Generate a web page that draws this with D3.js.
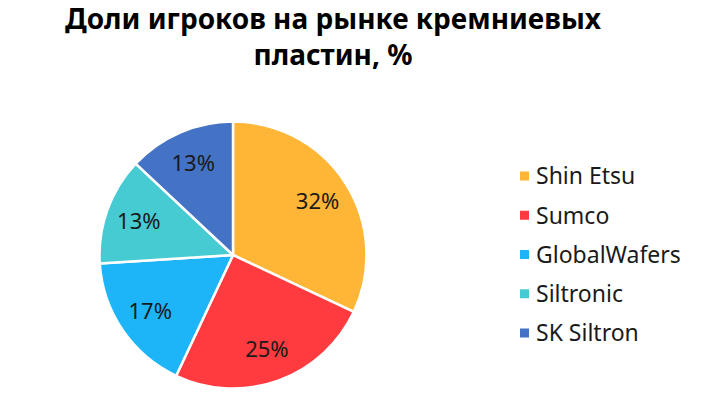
<!DOCTYPE html>
<html>
<head>
<meta charset="utf-8">
<script src="https://cdn.jsdelivr.net/npm/d3@7"></script>
<style>
  html, body { margin: 0; padding: 0; background: #fff; }
  svg { display: block; }
  text { font-family: "Noto Sans", "DejaVu Sans", sans-serif; }
</style>
</head>
<body>
<svg id="chart" width="715" height="408"></svg>
<script>
const titleLines = ["Доли игроков на рынке кремниевых", "пластин, %"];
const companies = ["Shin Etsu", "Sumco", "GlobalWafers", "Siltronic", "SK Siltron"];
const shares = [32, 25, 17, 13, 13];
const colors = ["#FFB536", "#FF3B3F", "#1DB5F7", "#47CBD3", "#4472C4"];

const width = 715, height = 408;
const svg = d3.select("#chart");

// Title
svg.append("g").selectAll("text")
  .data(titleLines)
  .join("text")
  .attr("x", 333)
  .attr("y", (d, i) => 29 + i * 36)
  .attr("text-anchor", "middle")
  .attr("font-size", 28)
  .attr("font-weight", "bold")
  .attr("fill", "#000")
  .text(d => d);

// Pie
const cx = 233, cy = 255, r = 133.5;
const data = companies.map((c, i) => ({ name: c, value: shares[i], color: colors[i] }));
const pie = d3.pie().value(d => d.value).sort(null);
const arcs = pie(data);
const arc = d3.arc().innerRadius(0).outerRadius(r);
const labelArc = d3.arc().innerRadius(r * 0.75).outerRadius(r * 0.75);
const color = d3.scaleOrdinal().domain(companies).range(colors);

const g = svg.append("g").attr("transform", `translate(${cx},${cy})`);
g.selectAll("path")
  .data(arcs)
  .join("path")
  .attr("d", arc)
  .attr("fill", d => color(d.data.name))
  .attr("stroke", "#fff")
  .attr("stroke-width", 2.5)
  .attr("stroke-linejoin", "round");

g.selectAll("text.lbl")
  .data(arcs)
  .join("text")
  .attr("class", "lbl")
  .attr("transform", d => `translate(${labelArc.centroid(d)})`)
  .attr("text-anchor", "middle")
  .attr("dy", "0.36em")
  .attr("font-size", 22)
  .attr("fill", "#1a1a1a")
  .text(d => d.data.value + "%");

// Legend
const legendY = d3.scalePoint().domain(companies).range([176, 333]);
const lg = svg.append("g");
const rows = lg.selectAll("g")
  .data(companies)
  .join("g")
  .attr("transform", d => `translate(520,${legendY(d)})`);
rows.append("rect")
  .attr("x", 0).attr("y", -4.5)
  .attr("width", 9).attr("height", 9)
  .attr("fill", d => color(d));
rows.append("text")
  .attr("x", 16)
  .attr("dy", "0.36em")
  .attr("font-size", 23)
  .attr("fill", "#1a1a1a")
  .text(d => d);
</script>
</body>
</html>
